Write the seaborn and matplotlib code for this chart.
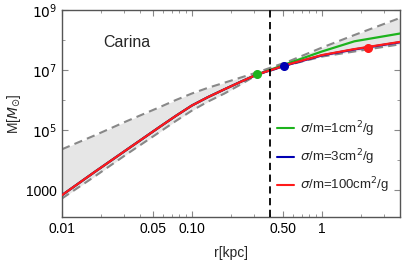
import numpy as np
import pandas as pd
import matplotlib
matplotlib.use("Agg")
import matplotlib.pyplot as plt
import matplotlib.ticker as mticker
import seaborn as sns

# radius in kpc, masses as log10(M / Msun)
r_kpc = [0.01, 0.0178, 0.0316, 0.0562, 0.075, 0.1, 0.133, 0.178, 0.237,
         0.316, 0.562, 1.0, 1.78, 4.0]
logM_upper = [4.36, 4.82, 5.30, 5.76, 6.00, 6.22, 6.41, 6.58, 6.75,
              6.92, 7.30, 7.75, 8.17, 8.74]
logM_lower = [2.72, 3.45, 4.20, 4.93, 5.30, 5.65, 5.95, 6.22, 6.52,
              6.84, 7.18, 7.45, 7.62, 7.86]
logM_s1 = [2.83, 3.60, 4.35, 5.10, 5.47, 5.82, 6.10, 6.36, 6.61,
           6.85, 7.24, 7.62, 7.96, 8.22]
logM_s3 = [2.83, 3.60, 4.35, 5.10, 5.47, 5.82, 6.10, 6.36, 6.61,
           6.85, 7.19, 7.49, 7.69, 7.93]
logM_s100 = [2.83, 3.60, 4.35, 5.10, 5.47, 5.82, 6.10, 6.36, 6.61,
             6.85, 7.20, 7.50, 7.70, 7.94]

labels = [r"$\sigma$/m=1cm$^2$/g", r"$\sigma$/m=3cm$^2$/g", r"$\sigma$/m=100cm$^2$/g"]
colors = ["#1db31d", "#0000b3", "#ff1a1a"]

# dots marking the core radius on each curve
dot_r = [0.318, 0.515, 2.26]
dot_logM = [6.86, 7.15, 7.74]

r_split = 0.4

sns.set_style("ticks")
plt.rcParams["font.family"] = ["Liberation Sans", "DejaVu Sans"]
plt.rcParams["mathtext.fontset"] = "dejavusans"

fig, ax = plt.subplots(figsize=(4.05, 2.66), dpi=100)
fig.subplots_adjust(left=0.153, right=0.988, top=0.962, bottom=0.184)

r = np.array(r_kpc)
ax.fill_between(r, 10 ** np.array(logM_lower), 10 ** np.array(logM_upper),
                color="#e6e6e6", lw=0, zorder=1)
for band in (logM_upper, logM_lower):
    ax.plot(r, 10 ** np.array(band), color="#888888", lw=1.5,
            dashes=(4, 2.5), zorder=2)

df = pd.DataFrame({
    "r": np.tile(r, 3),
    "M": 10 ** np.concatenate([logM_s1, logM_s3, logM_s100]),
    "model": np.repeat(labels, len(r)),
})
sns.lineplot(data=df, x="r", y="M", hue="model", hue_order=labels,
             palette=colors, linewidth=1.6, ax=ax, zorder=3, legend=False)

for rr, mm, c in zip(dot_r, dot_logM, colors):
    ax.plot(rr, 10 ** mm, "o", color=c, ms=5.5, zorder=4)

ax.axvline(r_split, color="black", lw=1.3, dashes=(4, 2.5), zorder=5)

ax.set_xscale("log")
ax.set_yscale("log")
ax.set_xlim(0.01, 4.0)
ax.set_ylim(10 ** 2.1, 1e9)

ax.xaxis.set_major_locator(mticker.FixedLocator([0.01, 0.05, 0.1, 0.5, 1]))
ax.xaxis.set_major_formatter(mticker.FixedFormatter(["0.01", "0.05", "0.10", "0.50", "1"]))
ax.xaxis.set_minor_locator(mticker.LogLocator(subs=np.arange(2, 10)))
ax.xaxis.set_minor_formatter(mticker.NullFormatter())
ax.yaxis.set_major_locator(mticker.FixedLocator([1e3, 1e5, 1e7, 1e9]))
ax.yaxis.set_major_formatter(mticker.FixedFormatter(["1000", r"$10^5$", r"$10^7$", r"$10^9$"]))
ax.yaxis.set_minor_locator(mticker.FixedLocator([1e4, 1e6, 1e8]))
ax.yaxis.set_minor_formatter(mticker.NullFormatter())

ax.tick_params(which="both", direction="in", top=True, right=True,
               colors="#888888", labelcolor="black", labelsize=10)
ax.tick_params(which="major", length=4, width=0.8)
ax.tick_params(which="minor", length=2, width=0.6)
for s in ax.spines.values():
    s.set_color("#555555")
    s.set_linewidth(1.0)

ax.set_xlabel("r[kpc]", fontsize=10, labelpad=7)
ax.set_ylabel(r"M[$M_{\odot}$]", fontsize=10, labelpad=2)

ax.text(0.121, 0.845, "Carina", transform=ax.transAxes, fontsize=11.5,
        ha="left", va="center")

handles = [plt.Line2D([], [], color=c, lw=1.5) for c in colors]
ax.legend(handles, labels, loc="center left", bbox_to_anchor=(0.6, 0.29),
          frameon=False, fontsize=9.5, handlelength=1.3, handletextpad=0.45,
          labelspacing=0.65)

fig.savefig("out.png", dpi=100)
